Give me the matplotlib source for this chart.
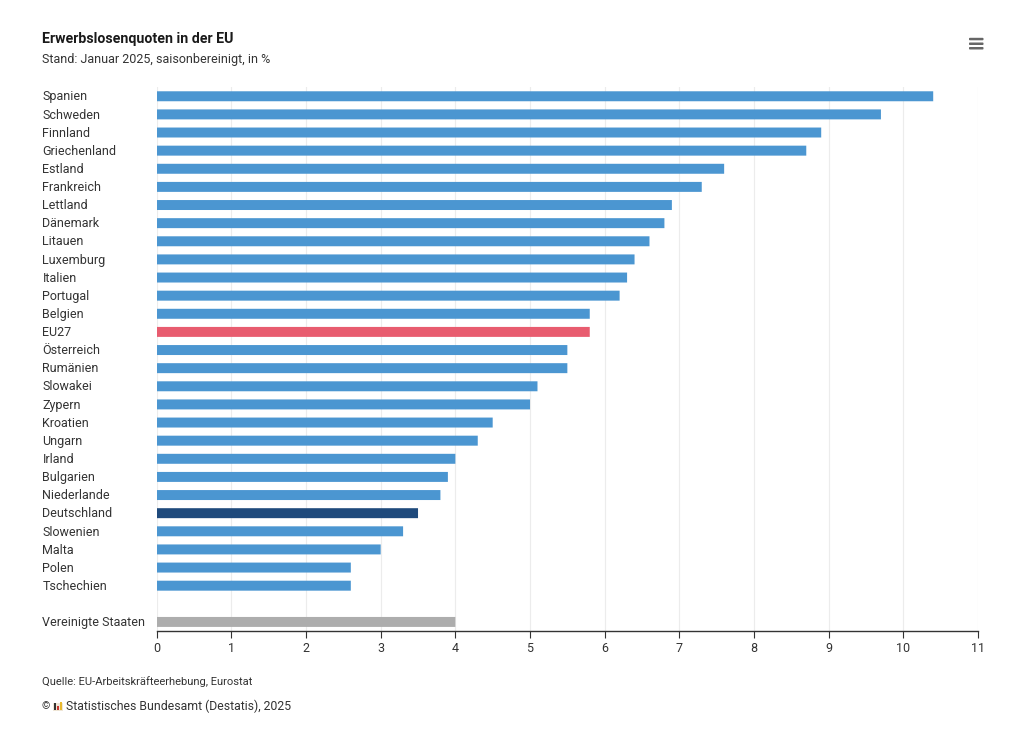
#!/usr/bin/python3

import matplotlib
matplotlib.use("Agg")
import matplotlib.pyplot as plt
from matplotlib.patches import FancyBboxPatch, Rectangle
from matplotlib.transforms import ScaledTranslation

countries = [
    "Spanien", "Schweden", "Finnland", "Griechenland", "Estland", "Frankreich",
    "Lettland", "Dänemark", "Litauen", "Luxemburg", "Italien", "Portugal",
    "Belgien", "EU27", "Österreich", "Rumänien", "Slowakei", "Zypern",
    "Kroatien", "Ungarn", "Irland", "Bulgarien", "Niederlande", "Deutschland",
    "Slowenien", "Malta", "Polen", "Tschechien", "", "Vereinigte Staaten",
]
rates = [
    10.4, 9.7, 8.9, 8.7, 7.6, 7.3, 6.9, 6.8, 6.6, 6.4, 6.3, 6.2, 5.8, 5.8, 5.5,
    5.5, 5.1, 5.0, 4.5, 4.3, 4.0, 3.9, 3.8, 3.5, 3.3, 3.0, 2.6, 2.6, 0, 4.0,
]
x_ticks = list(range(0, 12))

BLUE = "#4b96d1"
RED = "#e85c6f"
DARK = "#1f4a7c"
GREY = "#adadad"
TEXT = "#333333"
special = {"EU27": RED, "Deutschland": DARK, "Vereinigte Staaten": GREY}

W, H = 1024, 735
plt.rcParams["font.family"] = ["Roboto", "DejaVu Sans"]


def add_box(fig, x, y, w, h, color):
    """Draws a rectangle given in pixels from the top left of the figure."""
    fig.add_artist(Rectangle((x / W, 1 - (y + h) / H), w / W, h / H,
                             transform=fig.transFigure, color=color, lw=0))


def main():
    fig = plt.figure(figsize=(W / 100, H / 100), dpi=100)
    ax = fig.add_axes([156.7 / W, 1 - 631 / H, (978 - 156.7) / W, (631 - 87.2) / H])

    colors = [special.get(c, BLUE) for c in countries]
    positions = list(range(len(countries)))
    ax.barh(positions, rates, height=0.55, color=colors, zorder=3, snap=False)

    ax.set_xlim(0, 11)
    ax.set_ylim(len(countries) - 0.5, -0.5)
    ax.set_xticks(x_ticks)
    ax.set_yticks(positions)
    ax.set_yticklabels(countries, ha="left")

    ax.grid(axis="x", color="#ececec", lw=0.8, zorder=0)
    ax.set_axisbelow(True)
    for side in ("top", "right", "left"):
        ax.spines[side].set_visible(False)
    ax.spines["bottom"].set_color("#333333")
    ax.spines["bottom"].set_linewidth(1)

    ax.tick_params(axis="y", length=0, pad=82.3, labelsize=9, labelcolor=TEXT)
    ax.tick_params(axis="x", length=5, width=0.8, color="#333333", pad=3,
                   labelsize=9, labelcolor=TEXT)

    # nudge the country names up a little
    nudge = ScaledTranslation(0, 0.8 / 100, fig.dpi_scale_trans)
    for label in ax.get_yticklabels():
        label.set_transform(label.get_transform() + nudge)

    fig.text(42 / W, 1 - 39 / H, "Erwerbslosenquoten in der EU", fontsize=10.15,
             fontweight="bold", color="#1a1a1a", va="center")
    fig.text(42 / W, 1 - 60 / H, "Stand: Januar 2025, saisonbereinigt, in %",
             fontsize=9, color=TEXT, va="center")
    fig.text(42 / W, 1 - 682 / H, "Quelle: EU-Arbeitskräfteerhebung, Eurostat",
             fontsize=8, color=TEXT, va="center")
    fig.text(42 / W, 1 - 706 / H, "©", fontsize=7.5, color=TEXT, va="center")
    fig.text(66 / W, 1 - 706 / H, "Statistisches Bundesamt (Destatis), 2025",
             fontsize=8.85, color=TEXT, va="center")

    # small logo next to the copyright sign
    add_box(fig, 53, 703, 10, 8, "#efe6d6")
    add_box(fig, 54, 703, 2, 7, "#333333")
    add_box(fig, 57, 706, 2, 4, "#c8352e")
    add_box(fig, 60, 702, 2, 8, "#e8b92f")

    # menu icon
    for y in (37.8, 42.5, 47):
        fig.add_artist(FancyBboxPatch(
            (969 / W, 1 - (y + 2.5) / H), 14.5 / W, 2.5 / H,
            boxstyle="round,pad=0,rounding_size=0.001",
            transform=fig.transFigure, color="#666666", lw=0))

    fig.savefig("out.png", dpi=100)


if __name__ == "__main__":
    main()
